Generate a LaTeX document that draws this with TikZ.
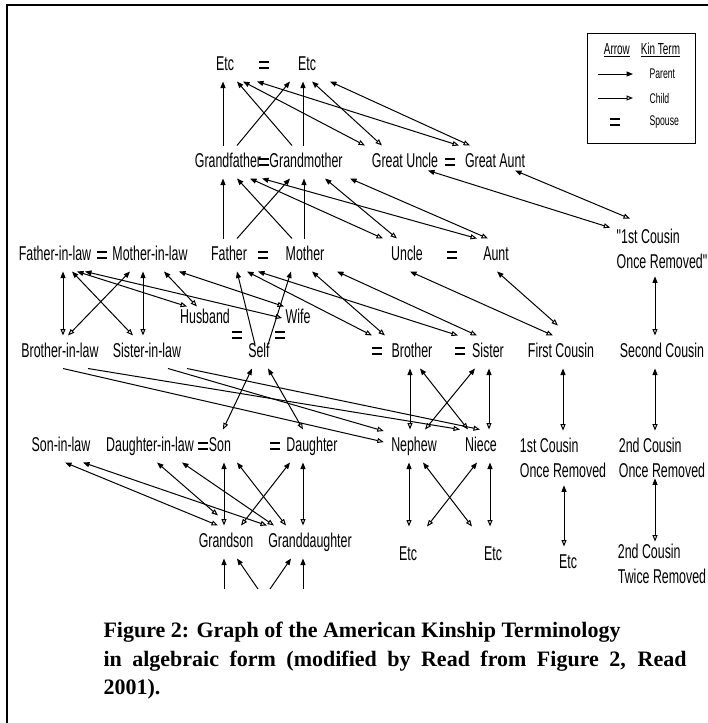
\documentclass[tikz,border=0pt]{standalone}
\usepackage{fontspec}
\newfontfamily\kinfont[FakeStretch=0.62]{Liberation Sans}
\newfontfamily\capfont{Liberation Serif}
\usetikzlibrary{arrows.meta}
\newcommand{\spousemark}{\vbox{\hrule width 10.5pt height 2.4pt\vskip 3.2pt\hrule width 10.5pt height 2.4pt}}

\tikzset{
  kin/.style={font=\kinfont\fontsize{20}{25}\selectfont, inner xsep=0pt, inner ysep=7pt, text height=14.5pt, text depth=3.5pt},
  kinpair/.style={font=\kinfont\fontsize{20}{25}\selectfont, align=left, inner xsep=0pt, inner ysep=7pt},
  keytext/.style={font=\kinfont\fontsize{14}{16}\selectfont, inner sep=0pt, anchor=west},
  spouse/.style={inner sep=0pt},
  toparent/.style={-{Triangle[length=6.5pt,width=5pt]}},
  tochild/.style={-{Triangle[open,length=6.5pt,width=5pt]}},
  kinline/.style={{Triangle[length=6.5pt,width=5pt]}-{Triangle[open,length=6.5pt,width=5pt]}}
}

\begin{document}
\begin{tikzpicture}[x=1pt,y=-1pt,line width=1pt]
\useasboundingbox (0,0) rectangle (708,723);
\draw[line width=1.5pt] (708,5) -- (7,5) -- (7,723);

\node[kin]     (EtcA)  at (225,65)  {Etc};
\node[kin]     (EtcB)  at (307,65)  {Etc};
\node[kin]     (GF)    at (228,162) {Grandfather};
\node[kin]     (GM)    at (306,162) {Grandmother};
\node[kin]     (GU)    at (405,162) {Great Uncle};
\node[kin]     (GA)    at (495,162) {Great Aunt};
\node[kin]     (FIL)   at (55,255)  {Father-in-law};
\node[kin]     (MIL)   at (150,255) {Mother-in-law};
\node[kin]     (Fa)    at (229,255) {Father};
\node[kin]     (Mo)    at (305,255) {Mother};
\node[kin]     (Un)    at (407,255) {Uncle};
\node[kin]     (Au)    at (496,255) {Aunt};
\node[kinpair] (CousA) at (662,249) {"1st Cousin\\Once Removed"};
\node[kin]     (Hu)    at (205,318) {Husband};
\node[kin]     (Wi)    at (298,318) {Wife};
\node[kin]     (BIL)   at (60,352)  {Brother-in-law};
\node[kin]     (SIL)   at (147,352) {Sister-in-law};
\node[kin]     (Self)  at (259,352) {Self};
\node[kin]     (Br)    at (412,352) {Brother};
\node[kin]     (Si)    at (488,352) {Sister};
\node[kin]     (FC)    at (561,352) {First Cousin};
\node[kin]     (SC)    at (662,352) {Second Cousin};
\node[kin]     (SonIL) at (61,446)  {Son-in-law};
\node[kin]     (DIL)   at (150,446) {Daughter-in-law};
\node[kin]     (Son)   at (220,446) {Son};
\node[kin]     (Da)    at (312,446) {Daughter};
\node[kin]     (Ne)    at (414,446) {Nephew};
\node[kin]     (Ni)    at (481,446) {Niece};
\node[kinpair] (CousB) at (563,458) {1st Cousin\\Once Removed};
\node[kinpair] (CousC) at (662,458) {2nd Cousin\\Once Removed};
\node[kin]     (GS)    at (226,542) {Grandson};
\node[kin]     (GD)    at (310,542) {Granddaughter};
\node[kin]     (EtcC)  at (408,555) {Etc};
\node[kin]     (EtcD)  at (493,555) {Etc};
\node[kin]     (EtcE)  at (568,563) {Etc};
\node[kinpair] (CousD) at (662,564) {2nd Cousin\\Twice Removed};

\foreach \x/\y [count=\i] in {264/65,264/162,450/162,102/255,263/255,452/255,237/335,280/335,377/351,460/351,203/446,275/446}
  \node[spouse] (eq\i) at (\x,\y) {\spousemark};

\coordinate (GSa) at (224,589);
\coordinate (GSb) at (258,589);
\coordinate (GDa) at (270,589);
\coordinate (GDb) at (303,589);

\path[toparent] ([xshift=-5pt]GF.north) edge ([xshift=-2pt]EtcA.south)
                ([xshift=9pt]GF.north)  edge ([xshift=-17pt]EtcB.south)
                ([xshift=-14pt]GM.north) edge ([xshift=12pt]EtcA.south)
                ([xshift=-3pt]GM.north) edge ([xshift=-4pt]EtcB.south)
                ([xshift=-6pt]Fa.north) edge ([xshift=-5pt]GF.south)
                ([xshift=8pt]Fa.north)  edge ([xshift=-16pt]GM.south)
                ([xshift=-13pt]Mo.north) edge ([xshift=9pt]GF.south)
                ([xshift=-1pt]Mo.north) edge ([xshift=-2pt]GM.south)
                ([xshift=-4pt,yshift=-9pt]Self.north) edge ([xshift=8pt]Fa.south)
                ([xshift=9pt,yshift=-9pt]Self.north)  edge ([xshift=-14pt]Mo.south)
                (GSa) edge ([xshift=-2pt]GS.south)
                (GSb) edge ([xshift=11pt]GS.south)
                (GDa) edge ([xshift=-19pt]GD.south)
                (GDb) edge ([xshift=-7pt]GD.south);

\path[tochild] ([xshift=3pt]BIL.south)  edge ([xshift=-7pt,yshift=4pt]Ne.west)
               ([xshift=28pt]BIL.south) edge ([xshift=-21pt]Ni.north)
               ([xshift=21pt]SIL.south) edge ([xshift=-7pt,yshift=15pt]Ne.west)
               ([xshift=40pt]SIL.south) edge ([xshift=-1pt]Ni.north);

\path[kinline] ([xshift=18pt]EtcA.south) edge ([xshift=-40pt]GU.north)
               ([xshift=32pt]EtcA.south) edge ([xshift=-36pt]GA.north)
               ([xshift=5pt]EtcB.south)  edge ([xshift=-23pt]GU.north)
               ([xshift=23pt]EtcB.south) edge ([xshift=-25pt]GA.north)
               ([xshift=23pt,yshift=8pt]GU.south) edge ([xshift=-6pt,yshift=-6pt]CousA.north west)
               ([xshift=20pt,yshift=8pt]GA.south) edge ([xshift=-32pt,yshift=3pt]CousA.north)
               ([xshift=22pt]GF.south) edge ([xshift=-24pt]Un.north)
               ([xshift=34pt]GF.south) edge ([xshift=-19pt]Au.north)
               ([xshift=19pt]GM.south) edge ([xshift=-10pt]Un.north)
               ([xshift=44pt]GM.south) edge ([xshift=-8pt]Au.north)
               ([xshift=3pt]Un.south)  edge ([xshift=-8pt]FC.north)
               ([xshift=1pt]Au.south)  edge ([xshift=-3pt,yshift=10pt]FC.north)
               ([xshift=-7pt]CousA.south) edge ([xshift=-7pt]SC.north)
               ([xshift=8pt]FIL.south)  edge ([xshift=3pt]BIL.north)
               ([xshift=17pt]FIL.south) edge ([xshift=-14pt]SIL.north)
               ([xshift=22pt]FIL.south) edge ([xshift=-18pt,yshift=-5pt]Hu.north)
               ([xshift=30pt]FIL.south) edge ([xshift=-3pt]Wi.west)
               ([xshift=-20pt]MIL.south) edge ([xshift=8pt]BIL.north)
               ([xshift=-7pt]MIL.south) edge ([xshift=-4pt]SIL.north)
               ([xshift=14pt]MIL.south) edge ([xshift=-8pt,yshift=-5pt]Hu.north)
               ([xshift=29pt]MIL.south) edge ([xshift=-14pt,yshift=-5pt]Wi.north)
               ([xshift=18pt]Fa.south) edge ([xshift=-40pt]Br.north)
               ([xshift=29pt]Fa.south) edge ([xshift=-30pt]Si.north)
               ([xshift=7pt]Mo.south)  edge ([xshift=-27pt]Br.north)
               ([xshift=32pt]Mo.south) edge ([xshift=-11pt]Si.north)
               ([xshift=-7pt]Self.south) edge ([xshift=3pt]Son.north)
               ([xshift=9pt]Self.south)  edge ([xshift=-9pt]Da.north)
               ([xshift=-2pt]Br.south) edge ([xshift=-4pt]Ne.north)
               ([xshift=8pt]Br.south)  edge ([xshift=-13pt]Ni.north)
               ([xshift=-13pt]Si.south) edge ([xshift=11pt]Ne.north)
               ([xshift=1pt]Si.south)  edge ([xshift=8pt]Ni.north)
               ([xshift=2pt]FC.south)  edge (CousB.north)
               ([xshift=-7pt]SC.south) edge ([xshift=-7pt]CousC.north)
               ([xshift=4pt]SonIL.south)  edge ([xshift=-8pt]GS.north)
               ([xshift=22pt]SonIL.south) edge ([xshift=-43pt]GD.north)
               ([xshift=7pt]DIL.south)  edge ([xshift=-8pt,yshift=10pt]GS.north)
               ([xshift=32pt]DIL.south) edge ([xshift=-36pt]GD.north)
               ([xshift=4pt]Son.south)  edge ([xshift=-2pt]GS.north)
               ([xshift=17pt]Son.south) edge ([xshift=-24pt]GD.north)
               ([xshift=-22pt]Da.south) edge ([xshift=15pt]GS.north)
               ([xshift=-9pt]Da.south)  edge ([xshift=-7pt]GD.north)
               ([xshift=-5pt]Ne.south) edge ([xshift=1pt,yshift=12pt]EtcC.north)
               ([xshift=9pt]Ne.south)  edge ([xshift=-21pt,yshift=12pt]EtcD.north)
               ([xshift=-4pt]Ni.south) edge ([xshift=19pt,yshift=12pt]EtcC.north)
               ([xshift=9pt]Ni.south)  edge ([xshift=-3pt,yshift=12pt]EtcD.north)
               ([xshift=1pt]CousB.south) edge ([xshift=-4pt]EtcE.north)
               ([xshift=-7pt,yshift=7pt]CousC.south) edge ([xshift=-7pt,yshift=-5pt]CousD.north);

\node[draw, minimum width=108pt, minimum height=110pt, inner sep=0pt] (key) at (641,88) {};
\node[font=\kinfont\fontsize{16}{18}\selectfont, inner sep=0pt] (keyhead) at (642,50) {\underline{Arrow}\hspace{11pt}\underline{Kin Term}};
\coordinate (keyPa) at (598,74);
\coordinate (keyPb) at (633,74);
\coordinate (keyCa) at (598,98);
\coordinate (keyCb) at (633,98);
\path[toparent] (keyPa) edge (keyPb);
\path[tochild]  (keyCa) edge (keyCb);
\node[keytext] (keyP) at (649,74)  {Parent};
\node[keytext] (keyC) at (649,98)  {Child};
\node[spouse]  (keyE) at (615,122) {\spousemark};
\node[keytext] (keyS) at (649,122) {Spouse};

\node[font=\capfont\bfseries\fontsize{22}{28.5}\selectfont, align=left, anchor=north west, inner sep=0pt] (caption) at (103,622)
  {Figure 2: Graph of the American Kinship Terminology\\\makebox[583pt][s]{in algebraic form (modified by Read from Figure 2, Read}\\2001).};
\end{tikzpicture}
\end{document}
